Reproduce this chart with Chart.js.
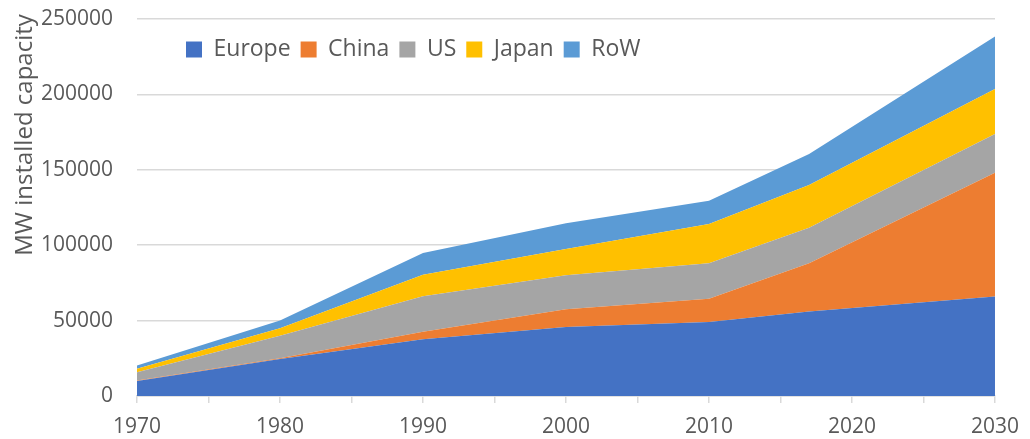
<!DOCTYPE html>
<html>
<head>
<meta charset="utf-8">
<script src="https://cdn.jsdelivr.net/npm/chart.js@4/dist/chart.umd.min.js"></script>
<style>
  html, body { margin: 0; padding: 0; background: #ffffff; overflow: hidden; }
  #wrap { width: 1030px; height: 439px; position: relative; }
</style>
</head>
<body>
<div id="wrap"><canvas id="chart" width="1030" height="439"></canvas></div>
<script>
// Installed capacity by region (MW), stacked
const years  = [1970, 1980, 1990, 2000, 2010, 2017, 2030];
const europe = [10000, 24500, 37600, 45800, 49000, 56000, 66000];
const china  = [200, 500, 5000, 11700, 15500, 32000, 82000];
const us     = [5500, 15000, 23600, 22500, 23500, 23600, 25800];
const japan  = [2300, 5000, 14200, 17500, 26100, 28300, 29700];
const row    = [2300, 5000, 14500, 17000, 15400, 20600, 34900];

const seriesNames  = ['Europe', 'China', 'US', 'Japan', 'RoW'];
const seriesValues = [europe, china, us, japan, row];
const seriesColors = ['#4472C4', '#ED7D31', '#A5A5A5', '#FFC000', '#5B9BD5'];

const yAxisTitle = 'MW installed capacity';
const FONT = "'Open Sans', 'DejaVu Sans', sans-serif";
const TEXT = '#595959';
const GRID = '#d9d9d9';

const datasets = seriesNames.map((name, i) => ({
  label: name,
  data: years.map((yr, k) => ({ x: yr, y: seriesValues[i][k] })),
  backgroundColor: seriesColors[i],
  borderColor: seriesColors[i],
  borderWidth: 0,
  pointRadius: 0,
  pointHoverRadius: 0,
  tension: 0,
  fill: i === 0 ? 'origin' : '-1'
}));

// Lays the legend out as one row inside the plot, and draws the rotated y-axis title
const layoutTweaks = {
  id: 'layoutTweaks',
  beforeLayout(chart) {
    if (chart.legend) chart.legend.isHorizontal = () => true;
  },
  afterLayout(chart) {
    const lg = chart.legend;
    if (lg) {
      lg.left = 176;
      lg.top = 28;
    }
  },
  afterDraw(chart) {
    const ctx = chart.ctx;
    ctx.save();
    ctx.translate(32, 135);
    ctx.rotate(-Math.PI / 2);
    ctx.font = "24px " + FONT;
    ctx.fillStyle = TEXT;
    ctx.textAlign = 'center';
    ctx.textBaseline = 'alphabetic';
    ctx.fillText(yAxisTitle, 0, 0);
    ctx.restore();
  }
};

new Chart(document.getElementById('chart'), {
  type: 'line',
  data: { datasets },
  plugins: [layoutTweaks],
  options: {
    responsive: false,
    animation: false,
    layout: { padding: { left: 0, right: 31, top: 19, bottom: 0 } },
    plugins: {
      legend: {
        position: 'chartArea',
        align: 'start',
        labels: {
          boxWidth: 16,
          boxHeight: 16,
          padding: 10,
          color: TEXT,
          font: { family: FONT, size: 23 }
        }
      },
      tooltip: { enabled: false }
    },
    scales: {
      x: {
        type: 'linear',
        min: 1970,
        max: 2030,
        afterFit(scale) { scale.height = 43; },
        grid: {
          display: true,
          drawOnChartArea: false,
          drawTicks: true,
          tickLength: 7,
          color: GRID,
          lineWidth: 1.5
        },
        border: { display: true, color: GRID, width: 1.5 },
        ticks: {
          stepSize: 5,
          autoSkip: false,
          maxRotation: 0,
          padding: 11,
          color: TEXT,
          font: { family: FONT, size: 21 },
          callback: (v) => (v % 10 === 0 ? String(v) : '')
        }
      },
      y: {
        stacked: true,
        min: 0,
        max: 250000,
        afterFit(scale) {
          scale.width = 137;
          scale.paddingTop = 0;
          scale.paddingBottom = 0;
        },
        grid: { color: GRID, lineWidth: 1.5, drawTicks: false },
        border: { display: false },
        ticks: {
          stepSize: 50000,
          padding: 24,
          color: TEXT,
          font: { family: FONT, size: 21 },
          callback: (v) => String(v)
        }
      }
    }
  }
});
</script>
</body>
</html>
